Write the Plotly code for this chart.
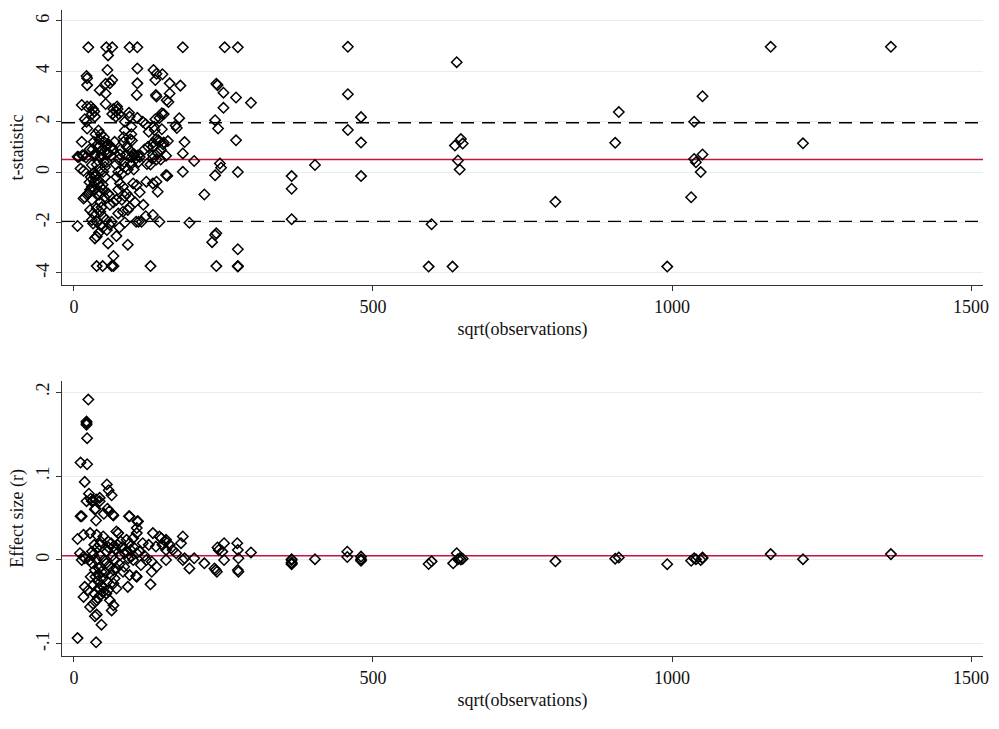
import plotly.graph_objects as go

# ---------------- data: top panel (t-statistic) ----------------
x_t = [
    # sparse, large samples
    458, 458, 480, 458, 480, 480, 640, 637, 647, 650, 642, 645,
    598, 593, 633, 805, 911, 905, 1165, 1366, 1051, 1037, 1219, 1051,
    1037, 1040, 1048, 1032, 992, 364, 364, 364, 403,
    # middle range
    182, 252, 274, 148, 160, 178, 238, 240, 250, 271, 296, 250, 160, 155,
    158, 150, 176, 170, 172, 236, 241, 271, 185, 157, 149, 182, 201, 145,
    244, 246, 156, 182, 236, 274, 218, 193, 238, 236, 231, 274, 238, 274, 274,
    # dense, small samples (upper)
    24, 54, 64, 93, 106, 57, 56, 106, 21, 22, 64, 60, 22, 106, 53, 43, 53,
    105, 133, 138, 136, 137, 138, 13, 22, 32, 53, 72, 73, 71, 35, 92, 93,
    106, 18, 21, 64, 136, 143, 147, 22, 41, 85, 96, 83, 83, 50, 50, 13, 52,
    54, 41, 31, 96, 97, 94, 88, 94, 132, 137, 143, 145, 140, 58, 55, 62, 35,
    44, 8, 16, 96, 101, 107, 104, 132, 138, 154,
    # dense, small samples (lower)
    6, 14, 20, 35, 46, 54, 77, 88, 99, 107, 132, 11, 16, 30, 32, 35, 34, 44,
    49, 41, 45, 49, 43, 18, 16, 24, 30, 35, 51, 57, 60, 74, 80, 71, 77, 82,
    74, 71, 66, 60, 88, 93, 99, 105, 121, 132, 138, 140, 154, 132, 27, 32,
    38, 44, 30, 32, 38, 44, 49, 54, 74, 82, 90, 60, 63, 6, 38, 35, 57, 90,
    71, 66, 38, 48, 63, 66, 128, 104, 108, 113, 143, 102, 93, 80, 85,
    # extra cluster points
    40, 42, 45, 47, 50, 52, 38, 36, 40, 42, 44, 46, 48, 52, 55, 58, 62, 65,
    68, 70, 75, 78, 84, 86, 90, 95, 100, 108, 110, 26, 28, 26, 22, 33, 36,
    30, 34, 28, 66, 70, 75, 85, 115, 120, 125, 118, 124, 128, 134, 110, 116,
    120, 85, 76, 55, 42, 48, 30, 27, 122, 132, 141, 150, 147, 135,
]
t_stat = [
    4.97, 3.09, 2.18, 1.67, 1.17, -0.16, 4.36, 1.05, 1.31, 1.13, 0.46, 0.10,
    -2.07, -3.75, -3.75, -1.18, 2.38, 1.16, 4.97, 4.97, 3.01, 2.0, 1.14, 0.70,
    0.52, 0.39, 0.0, -1.0, -3.75, -0.16, -0.66, -1.87, 0.28,
    4.95, 4.95, 4.95, 3.88, 3.52, 3.43, 3.50, 3.45, 3.15, 2.96, 2.75, 2.55, 3.12, 2.85,
    2.78, 2.3, 2.14, 1.85, 1.75, 2.06, 1.73, 1.26, 1.19, 1.23, 1.1, 0.74, 0.44, 0.5,
    0.34, 0.17, -0.15, 0.01, -0.13, 0.0, -0.89, -2.01, -2.43, -2.5, -2.78, -3.06, -3.73, -3.73, -3.75,
    4.95, 4.95, 4.95, 4.95, 4.95, 4.63, 4.05, 4.11, 3.81, 3.72, 3.65, 3.52, 3.45, 3.52, 3.5, 3.25, 3.12,
    3.06, 4.05, 3.9, 3.65, 3.06, 3.0, 2.66, 2.6, 2.5, 2.7, 2.6, 2.5, 2.4, 2.2, 2.35, 2.2,
    2.15, 2.1, 2.0, 2.3, 2.1, 2.15, 1.7, 1.73, 1.65, 1.65, 1.8, 1.38, 1.2, 1.38, 1.2, 1.2, 1.0,
    1.05, 1.0, 0.9, 1.5, 1.25, 1.3, 1.0, 0.85, 1.15, 1.3, 1.2, 0.9, 0.75, 0.75, 0.7, 0.65, 0.65,
    0.6, 0.6, 0.65, 0.6, 0.7, 0.65, 0.55, 0.55, 0.5, 0.65,
    0.61, 0.67, 0.58, 0.72, 0.7, 0.75, 0.7, 0.68, 0.72, 0.66, 0.68, 0.14, 0.05, 0.28, -0.05, -0.19, -0.38, 0.14,
    0.01, -0.45, -0.6, -0.7, -0.78, -1.0, -1.05, -0.85, -0.58, -0.69, -1.0, -0.85, -0.95, 0.01, -0.08, -0.2, -0.45, -0.58,
    -0.69, -1.1, -1.2, -1.3, -0.85, -1.0, -0.45, -0.52, -0.38, -0.45, -0.38, -0.78, -0.12, -1.7, -1.5, -1.64,
    -1.44, -1.57, -1.9, -2.04, -1.97, -2.1, -1.77, -1.9, -1.64, -1.57, -1.5, -2.1, -1.97, -2.14, -2.56, -2.63, -2.83, -2.88,
    -2.54, -3.33, -3.73, -3.73, -3.73, -3.73, -3.73, -1.97, -1.97, -1.97, -1.97, -1.2, -1.4, -1.1, -0.96,
    1.1, 1.3, 1.5, 0.9, 0.4, 0.2, 0.3, -0.1, -0.3, -0.9, -1.2, -1.4, -0.5, -0.2, 0.4, 1.1, 1.0, 0.9,
    1.2, 0.3, 0.5, 0.9, 0.4, 0.2, 0.1, 0.3, 0.1, 0.4, 0.6, 0.9, -0.2, -0.4, -0.9, 1.2, 1.5,
    2.3, 2.4, 2.6, 2.5, 2.2, 2.3, 2.0, 2.0, 1.9, 1.6, 0.9, 1.0, 0.3, 1.8, -0.8, -1.3,
    -1.75, -2.0, -2.2, -2.3, -2.4, -2.2, -1.1, -0.7, 0.32, 1.0, 1.27, 1.17, 2.33, 1.67,
]

# ---------------- data: bottom panel (effect size r) ----------------
x_r = [
    24, 21, 21, 21, 22, 11, 22, 18, 55, 58, 63, 25, 28, 32, 43, 37, 36, 56, 59, 11,
    65, 92, 106, 37,
    13, 21, 30, 43, 35, 50, 66, 93, 107, 105, 105, 6, 16, 27, 38, 49, 57, 66, 71, 74,
    45, 43, 38, 88, 93, 99, 132, 143, 154, 137, 148, 154, 10, 16, 18, 13, 32, 38, 44,
    30, 35, 46, 41, 54, 60, 66, 77, 85, 91, 96, 105, 99, 71, 82, 93, 105, 121, 130,
    130, 138, 128, 18, 24, 32, 41, 49, 66, 71, 90, 104, 16, 27, 32, 38, 60, 63, 66,
    35, 38, 46, 6, 37, 54, 57,
    36, 40, 42, 44, 46, 48, 50, 52, 55, 58, 62, 64, 68, 70, 73, 76, 78, 80, 84, 87,
    95, 100, 34, 40, 44, 50, 56, 28, 26, 30, 34, 62, 68, 110, 115, 118, 125, 112,
    146, 153, 160, 182, 179, 165, 171, 154, 182, 185, 201, 193, 218, 235, 239, 237,
    240, 242, 251, 248, 251, 273, 274, 275, 274, 275, 296, 364, 364,
    364, 364, 364, 403, 457, 457, 480, 480, 480, 593, 598, 640, 634, 642, 645, 650,
    647, 805, 905, 911, 992, 1032, 1037, 1040, 1048, 1051, 1051, 1165, 1219, 1366,
]
r_eff = [
    0.191, 0.165, 0.163, 0.161, 0.145, 0.116, 0.114, 0.093, 0.090, 0.083, 0.077, 0.079,
    0.073, 0.071, 0.074, 0.072, 0.061, 0.061, 0.058, 0.052, 0.054, 0.052, 0.046, 0.047,
    0.052, 0.07, 0.07, 0.07, 0.06, 0.055, 0.053, 0.052, 0.046, 0.038, 0.032, 0.025, 0.03,
    0.032, 0.03, 0.028, 0.022, 0.016, 0.034, 0.032, 0.022, 0.018, 0.014, 0.024, 0.020,
    0.026, 0.032, 0.028, 0.024, 0.016, 0.018, 0.012, 0.008, 0.004, 0.002, 0.0, 0.006,
    0.0, -0.008, -0.004, -0.012, -0.014, -0.018, -0.004, -0.008, -0.012, 0.006, 0.008,
    0.002, 0.004, 0.008, 0.0, -0.010, -0.014, -0.018, -0.02, 0.0, -0.002, -0.014, -0.008,
    -0.029, -0.032, -0.036, -0.03, -0.034, -0.038, -0.028, -0.034, -0.032, -0.019, -0.044,
    -0.056, -0.052, -0.048, -0.048, -0.06, -0.054, -0.067, -0.065, -0.077, -0.093, -0.098,
    -0.040, -0.036,
    -0.02, -0.025, -0.01, 0.005, -0.03, -0.022, 0.0, -0.015, 0.01, 0.015, 0.02, 0.005,
    0.0, 0.012, 0.018, -0.005, 0.022, 0.015, -0.008, 0.01, 0.012, 0.015, -0.04, -0.045,
    -0.042, -0.033, -0.026, -0.02, 0.0, 0.01, 0.018, -0.018, -0.022, 0.01, 0.02, 0.005,
    0.018, -0.006,
    0.026, 0.022, 0.018, 0.028, 0.020, 0.012, 0.008, 0.0, 0.0, 0.002, 0.002, -0.010,
    -0.004, -0.010, -0.014, -0.012, 0.015, 0.012, 0.020, 0.010, 0.000, 0.020, 0.012,
    0.002, -0.012, -0.014, 0.009, 0.000, -0.004,
    0.001, -0.003, -0.005, 0.001, 0.0099, 0.0036, 0.004, 0.001, -0.0008, -0.0048,
    -0.0016, 0.008, -0.004, 0.001, 0.002, 0.0015, 0.0005, -0.0016, 0.0016, 0.003,
    -0.005, -0.001, 0.002, 0.001, 0.0, 0.003, 0.002, 0.007, 0.001, 0.007,
]

# reference values
t_mean = 0.5
t_crit = [1.96, -1.96]
r_mean = 0.005

x_ticks = [0, 500, 1000, 1500]
t_ticks = [-4, -2, 0, 2, 4, 6]
t_tick_text = ["-4", "-2", "0", "2", "4", "6"]
r_ticks = [-0.1, 0, 0.1, 0.2]
r_tick_text = ["-.1", "0", ".1", ".2"]

FONT = "Liberation Serif, Times New Roman, serif"
AX = "#333333"
GRID = "#e7eef1"
RED = "#c8143c"
FS = 18

marker = dict(symbol="diamond-open", size=8, color="black", line=dict(width=1.5, color="black"))

fig = go.Figure()
fig.add_trace(go.Scatter(x=x_t, y=t_stat, mode="markers", marker=marker,
                         xaxis="x", yaxis="y", showlegend=False, hoverinfo="skip"))
fig.add_trace(go.Scatter(x=x_r, y=r_eff, mode="markers", marker=marker,
                         xaxis="x2", yaxis="y2", showlegend=False, hoverinfo="skip"))

shapes = []
for v in t_crit:
    shapes.append(dict(type="line", xref="x domain", yref="y", x0=0, x1=1, y0=v, y1=v,
                       line=dict(color="black", width=1.6, dash="13px,8px"), layer="below"))
shapes.append(dict(type="line", xref="x domain", yref="y", x0=0, x1=1, y0=t_mean, y1=t_mean,
                   line=dict(color=RED, width=1.5), layer="below"))
shapes.append(dict(type="line", xref="x2 domain", yref="y2", x0=0, x1=1, y0=r_mean, y1=r_mean,
                   line=dict(color=RED, width=1.5), layer="below"))

common_x = dict(range=[-20, 1520], tickvals=x_ticks, ticks="outside", ticklen=5, tickwidth=1,
                tickcolor=AX, showline=True, linecolor=AX, linewidth=1.2, showgrid=False,
                zeroline=False, tickfont=dict(family=FONT, size=FS, color="#111"),
                title=dict(text="sqrt(observations)", font=dict(family=FONT, size=FS, color="#111"),
                           standoff=6))
common_y = dict(ticks="outside", ticklen=5, tickwidth=1, tickcolor=AX, showline=True,
                linecolor=AX, linewidth=1.2, showgrid=True, gridcolor=GRID, gridwidth=1.2,
                zeroline=False, tickangle=-90, tickfont=dict(family=FONT, size=FS, color="#111"))

fig.update_layout(
    width=999, height=729,
    paper_bgcolor="white", plot_bgcolor="white",
    margin=dict(l=62, r=12, t=10, b=73),
    shapes=shapes,
    xaxis=dict(domain=[0, 1], anchor="y", **common_x),
    yaxis=dict(domain=[0.5743, 1], anchor="x", range=[-4.48, 6.43], tickvals=t_ticks,
               ticktext=t_tick_text,
               title=dict(text="t-statistic", font=dict(family=FONT, size=FS, color="#111"),
                          standoff=4), **common_y),
    xaxis2=dict(domain=[0, 1], anchor="y2", **common_x),
    yaxis2=dict(domain=[0, 0.4262], anchor="x2", range=[-0.1143, 0.2135], tickvals=r_ticks,
                ticktext=r_tick_text,
                title=dict(text="Effect size (r)", font=dict(family=FONT, size=FS, color="#111"),
                           standoff=4), **common_y),
)

fig.write_html("out.html", config={"displayModeBar": False},
               post_script="document.body.style.margin='0';document.body.style.padding='0';")
